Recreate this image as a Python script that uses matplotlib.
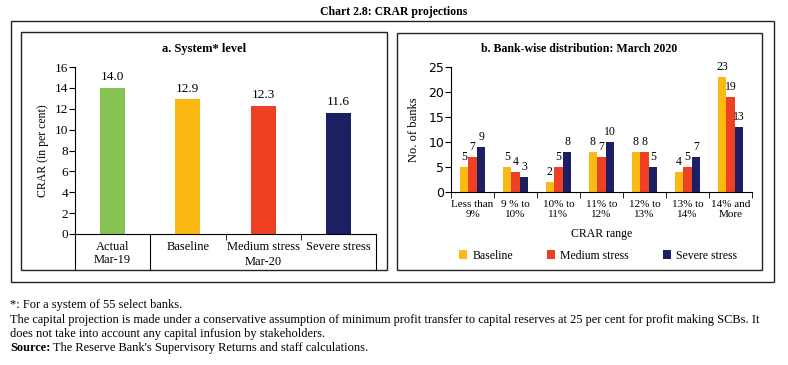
import numpy as np
import matplotlib
matplotlib.use("Agg")
from matplotlib import pyplot as plt
from matplotlib.patches import Rectangle

# ---data---#
sys_labels = ["Actual\nMar-19", "Baseline", "Medium stress", "Severe stress"]
sys_values = [14.0, 12.9, 12.3, 11.6]

ranges = ["Less than\n9%", "9 % to\n10%", "10% to\n11%", "11% to\n12%",
          "12% to\n13%", "13% to\n14%", "14% and\nMore"]
baseline = [5, 5, 2, 8, 8, 4, 23]
medium = [7, 4, 5, 7, 8, 5, 19]
severe = [9, 3, 8, 10, 5, 7, 13]

c_green = "#86c352"
c_yellow = "#fdb913"
c_red = "#ee4123"
c_navy = "#1c1f61"

plt.rcParams["font.family"] = ["Liberation Serif", "DejaVu Serif"]

W, H = 788, 365
fig = plt.figure(figsize=(W / 100, H / 100), dpi=100)


def px_axes(l, t, r, b):
	return fig.add_axes([l / W, 1 - b / H, (r - l) / W, (b - t) / H])


def box(l, t, r, b, lw=1.0):
	fig.patches.append(Rectangle((l / W, 1 - b / H), (r - l) / W, (b - t) / H,
		transform=fig.transFigure, fill=False, edgecolor="#222222", linewidth=lw))


# frames
box(11, 21, 774, 282)
box(21, 32, 387, 270)
box(397, 33, 762, 270)

fig.text(394 / W, 1 - 12 / H, "Chart 2.8: CRAR projections", ha="center", va="center",
	fontsize=8.5, fontweight="bold")

#---Panel a---#
ax = px_axes(75, 67, 376, 234)
x = np.arange(len(sys_values))
ax.bar(x, sys_values, width=0.33, color=[c_green, c_yellow, c_red, c_navy])
for i, v in enumerate(sys_values):
	ax.text(i, v + 0.45, "%.1f" % v, ha="center", va="bottom", fontsize=9.5)
ax.set_xlim(-0.5, 3.5)
ax.set_ylim(0, 16)
ax.set_yticks(range(0, 17, 2))
ax.tick_params(axis="y", labelsize=9.5, length=4, pad=1)
ax.set_xticks(x)
ax.set_xticklabels(sys_labels, fontsize=9, linespacing=1.15)
ax.tick_params(axis="x", length=0, pad=5)
ax.set_xticks([0.5, 1.5, 2.5], minor=True)
ax.tick_params(axis="x", which="minor", length=4, direction="out")
for s in ["top", "right"]:
	ax.spines[s].set_visible(False)
# group separators reaching the panel bottom
drop = -(270 - 234) / (234 - 67)
for xb in [-0.5, 0.5, 3.5]:
	ax.plot([xb, xb], [0, drop], color="black", linewidth=0.8,
		transform=ax.get_xaxis_transform(), clip_on=False)
ax.text(2, drop + 0.01, "Mar-20", transform=ax.get_xaxis_transform(),
	ha="center", va="bottom", fontsize=9)
ax.set_ylabel("CRAR (in per cent)", fontsize=8.5, labelpad=4)
fig.text(204 / W, 1 - 49 / H, "a. System* level", ha="center", va="center",
	fontsize=9, fontweight="bold")

#---Panel b---#
bx = px_axes(451, 66.7, 752, 192)
xr = np.arange(len(ranges))
bw = 0.2
series = [(baseline, c_yellow, "Baseline"), (medium, c_red, "Medium stress"),
	(severe, c_navy, "Severe stress")]
for k, (vals, col, name) in enumerate(series):
	pos = xr + (k - 1) * bw
	bx.bar(pos, vals, width=bw, color=col, label=name)
	for p, v in zip(pos, vals):
		bx.text(p, v + 0.8, str(v), ha="center", va="bottom", fontsize=8.5)
bx.set_xlim(-0.5, 6.5)
bx.set_ylim(0, 25)
bx.set_yticks(range(0, 26, 5))
bx.tick_params(axis="y", length=4, pad=1)
for lab in bx.get_yticklabels():
	lab.set_family("DejaVu Sans")
	lab.set_fontsize(9)
bx.set_xticks(xr)
bx.set_xticklabels(ranges, fontsize=8, linespacing=1.15)
bx.tick_params(axis="x", length=0, pad=6)
bx.set_xticks(np.arange(-0.5, 7, 1), minor=True)
bx.tick_params(axis="x", which="minor", length=4, direction="out")
for s in ["top", "right"]:
	bx.spines[s].set_visible(False)
bx.set_ylabel("No. of banks", fontsize=9, labelpad=6)
bx.set_xlabel("CRAR range", fontsize=8.5, labelpad=6)
fig.text(579 / W, 1 - 49 / H, "b. Bank-wise distribution: March 2020", ha="center",
	va="center", fontsize=8.6, fontweight="bold")
fig.legend(loc="center", bbox_to_anchor=(598 / W, 1 - 256 / H), ncol=3, frameon=False,
	fontsize=8.5, handlelength=0.7, handleheight=0.8, handletextpad=0.4,
	columnspacing=2.9)

#---Notes---#
nfs = 8.9
notes = [
	(305, "*: For a system of 55 select banks."),
	(320, "The capital projection is made under a conservative assumption of minimum profit transfer to capital reserves at 25 per cent for profit making SCBs. It"),
	(334, "does not take into account any capital infusion by stakeholders."),
]
for y, t in notes:
	fig.text(10 / W, 1 - y / H, t, ha="left", va="center", fontsize=nfs)
src = fig.text(10 / W, 1 - 348 / H, "Source:", ha="left", va="center", fontsize=nfs,
	fontweight="bold")
r = fig.canvas.get_renderer()
ext = src.get_window_extent(renderer=r)
fig.text((ext.x1 + 3) / W, 1 - 348 / H,
	"The Reserve Bank's Supervisory Returns and staff calculations.",
	ha="left", va="center", fontsize=nfs)

fig.savefig("out.png", dpi=100)
